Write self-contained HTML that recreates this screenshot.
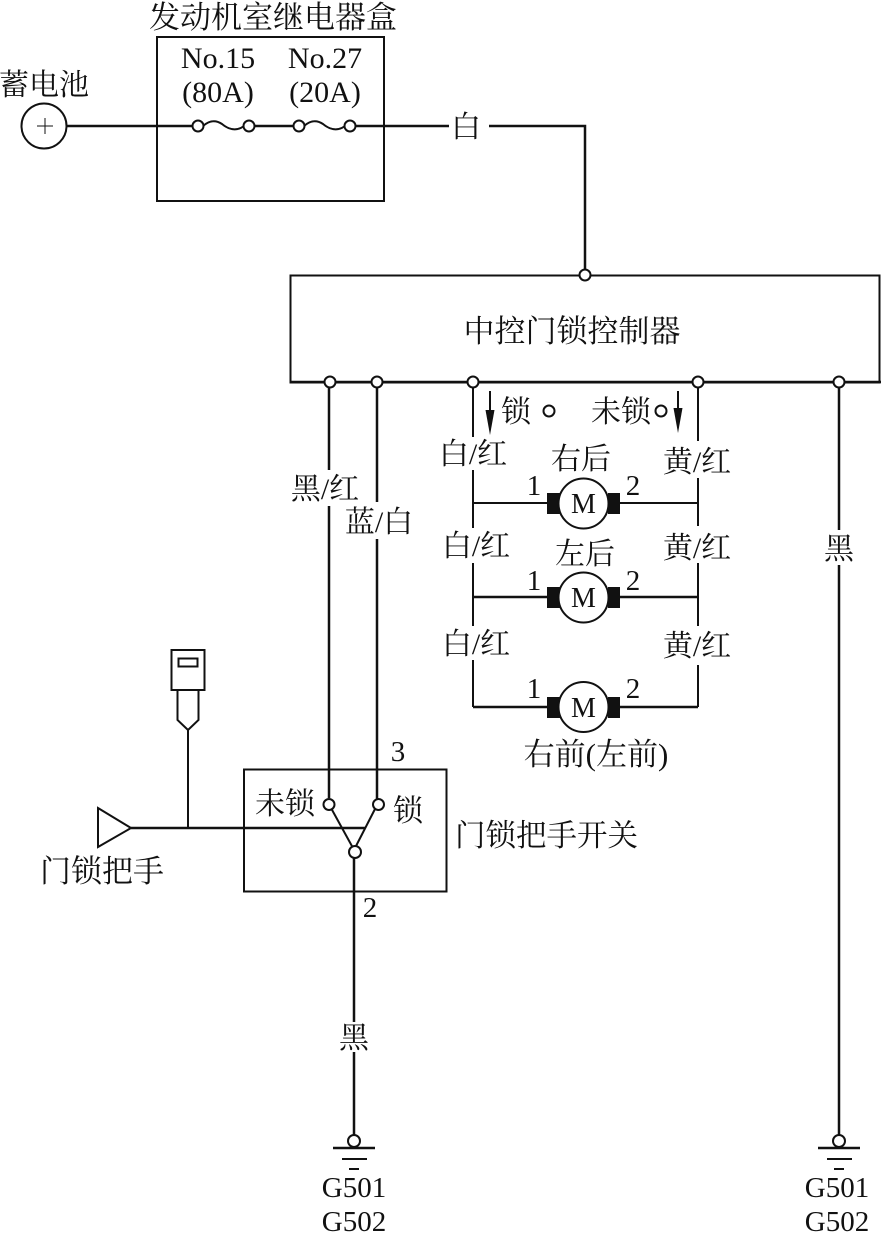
<!DOCTYPE html>
<html><head><meta charset="utf-8"><style>
html,body{margin:0;padding:0;background:#fff}
svg{display:block}
text{font-family:"Liberation Serif","Noto Serif CJK SC",serif;fill:#111;text-anchor:middle}
.c{font-size:30px}
.l{font-size:30px}
.n{font-size:29px}
.e{font-size:29px}
line,path,rect,circle,polyline,polygon{stroke:#111;fill:none;stroke-width:2}
.w{fill:#fff;stroke-width:2}
.t{stroke-width:2.5}
.b{fill:#111;stroke:none}
</style></head><body>
<svg width="881" height="1233" viewBox="0 0 881 1233" xmlns="http://www.w3.org/2000/svg">
<!-- relay box -->
<rect x="157" y="37" width="227" height="164"/>
<text class="c" x="273" y="28" style="font-size:31px">发动机室继电器盒</text>
<text class="e" x="218" y="68" style="font-size:30px">No.15</text>
<text class="e" x="325" y="68" style="font-size:30px">No.27</text>
<text class="e" x="218" y="102" style="font-size:30px">(80A)</text>
<text class="e" x="325" y="102" style="font-size:30px">(20A)</text>
<text class="c" x="44" y="95">蓄电池</text>
<line class="t" x1="67" y1="126" x2="193" y2="126"/>
<line class="t" x1="254" y1="126" x2="294" y2="126"/>
<line class="t" x1="355" y1="126" x2="449" y2="126"/>
<circle cx="44" cy="126" r="22.5" class="w"/>
<line x1="37" y1="126" x2="53" y2="126" style="stroke-width:1"/>
<line x1="45" y1="118" x2="45" y2="134" style="stroke-width:1"/>
<path d="M203 126 C210 120 216 120 222 124 C228 129 236 132 244 126"/>
<path d="M304 126 C311 120 317 120 323 124 C329 129 337 132 345 126"/>
<circle cx="198" cy="126" r="5.5" class="w"/>
<circle cx="249" cy="126" r="5.5" class="w"/>
<circle cx="299" cy="126" r="5.5" class="w"/>
<circle cx="350" cy="126" r="5.5" class="w"/>
<text class="c" x="466" y="137">白</text>
<polyline class="t" points="489,126 585,126 585,270"/>
<!-- controller -->
<rect x="290.500" y="275.500" width="589" height="107"/>
<line class="t" x1="291" y1="382" x2="881" y2="382"/>
<text class="c" x="572" y="342" style="font-size:31px">中控门锁控制器</text>
<!-- vertical wires -->
<path class="t" d="M329 388V470M329 506V798M377 388V502M377 539V799"/>
<path class="t" d="M839 388V530M839 565V1135"/>
<path d="M473 388V437M473 470V528M473 563V626M473 660V707"/>
<path d="M698 388V441M698 478V526M698 563V626M698 665V707"/>
<circle cx="585" cy="275" r="5.500" class="w"/>
<circle cx="330" cy="382" r="5.500" class="w"/>
<circle cx="377" cy="382" r="5.500" class="w"/>
<circle cx="473" cy="382" r="5.500" class="w"/>
<circle cx="698" cy="382" r="5.500" class="w"/>
<circle cx="839" cy="382" r="5.500" class="w"/>
<!-- arrows and lock row -->
<line x1="490" y1="391" x2="490" y2="420"/>
<polygon class="b" points="485.500,410 494.500,410 490,435"/>
<line x1="678" y1="391" x2="678" y2="418"/>
<polygon class="b" points="673.500,408 682.500,408 678,433"/>
<text class="c" x="516" y="422">锁</text>
<circle cx="549" cy="411" r="5.500"/>
<text class="c" x="621" y="422">未锁</text>
<circle cx="661" cy="411" r="5.500"/>
<!-- labels -->
<text class="l" x="473" y="464">白/红</text>
<text class="l" x="476" y="556">白/红</text>
<text class="l" x="476" y="654">白/红</text>
<text class="l" x="697" y="472">黄/红</text>
<text class="l" x="697" y="558">黄/红</text>
<text class="l" x="697" y="656">黄/红</text>
<text class="l" x="325" y="499">黑/红</text>
<text class="l" x="379" y="532">蓝/白</text>
<text class="c" x="839" y="559">黑</text>
<text class="c" x="354" y="1048">黑</text>
<text class="c" x="581" y="469">右后</text>
<text class="c" x="585" y="564">左后</text>
<text class="c" x="596" y="765" style="font-size:31px">右前(左前)</text>
<!-- motors -->
<g>
<line x1="473" y1="503" x2="547" y2="503"/><line x1="620" y1="503" x2="698" y2="503"/>
<rect class="b" x="547" y="493" width="13" height="21"/><rect class="b" x="608" y="493" width="12" height="21"/>
<circle cx="583.500" cy="503.500" r="25" class="w"/>
<text class="e" x="583.500" y="513" style="font-size:28px">M</text>
<text class="n" x="534" y="495">1</text><text class="n" x="633" y="495">2</text>
</g>
<g>
<line class="t" x1="473" y1="597" x2="547" y2="597"/><line class="t" x1="620" y1="597" x2="698" y2="597"/>
<rect class="b" x="547" y="587" width="13" height="21"/><rect class="b" x="608" y="587" width="12" height="21"/>
<circle cx="583.500" cy="597.500" r="25" class="w"/>
<text class="e" x="583.500" y="607" style="font-size:28px">M</text>
<text class="n" x="534" y="590">1</text><text class="n" x="633" y="590">2</text>
</g>
<g>
<line class="t" x1="473" y1="707" x2="547" y2="707"/><line class="t" x1="620" y1="707" x2="698" y2="707"/>
<rect class="b" x="547" y="697" width="13" height="21"/><rect class="b" x="608" y="697" width="12" height="21"/>
<circle cx="583.500" cy="707" r="25" class="w"/>
<text class="e" x="583.500" y="717" style="font-size:28px">M</text>
<text class="n" x="534" y="698">1</text><text class="n" x="633" y="698">2</text>
</g>
<!-- handle switch -->
<rect x="244" y="769.500" width="202.500" height="122"/>
<text class="n" x="398" y="761">3</text>
<text class="n" x="370" y="917">2</text>
<text class="c" x="285" y="814">未锁</text>
<text class="c" x="408" y="821">锁</text>
<text class="c" x="546.500" y="846" style="font-size:30.500px">门锁把手开关</text>
<text class="c" x="102" y="882" style="font-size:31px">门锁把手</text>
<polygon points="98,808 131,828 98,847"/>
<line class="t" x1="131" y1="828" x2="365" y2="828"/>
<line x1="188" y1="828" x2="188" y2="729"/>
<rect x="171.500" y="650" width="33" height="40"/>
<rect x="178.500" y="658.500" width="19" height="8"/>
<path d="M177.500 690V720L188 730L198.500 720V690"/>
<line x1="331" y1="808" x2="353" y2="848"/>
<line x1="375" y1="809" x2="355" y2="848"/>
<circle cx="329" cy="804.500" r="5.500" class="w"/>
<circle cx="378.500" cy="804.500" r="5.500" class="w"/>
<circle cx="355" cy="852" r="6" class="w"/>
<path class="t" d="M354 858V1022M354 1052V1135"/>
<!-- grounds -->
<g>
<circle cx="354" cy="1141" r="6"/>
<line class="t" x1="333" y1="1148" x2="375" y2="1148"/>
<line x1="342" y1="1159" x2="367" y2="1159"/>
<line x1="349" y1="1169" x2="359" y2="1169"/>
</g>
<g>
<circle cx="839" cy="1141" r="6"/>
<line class="t" x1="818" y1="1148" x2="860" y2="1148"/>
<line x1="827" y1="1159" x2="852" y2="1159"/>
<line x1="834" y1="1169" x2="844" y2="1169"/>
</g>
<text class="e" x="354" y="1197">G501</text>
<text class="e" x="354" y="1231">G502</text>
<text class="e" x="837" y="1197">G501</text>
<text class="e" x="837" y="1231">G502</text>
</svg>
</body></html>
